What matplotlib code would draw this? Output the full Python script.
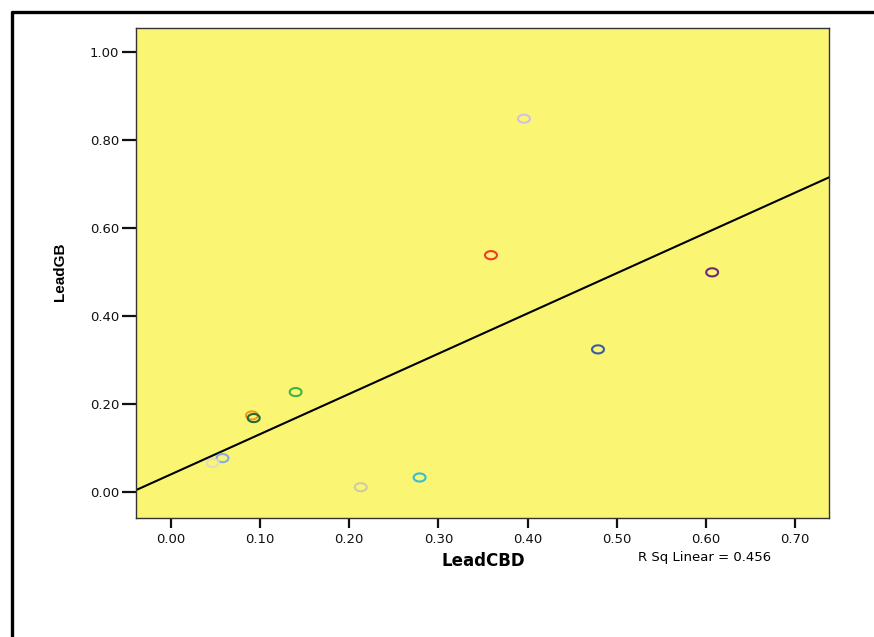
import matplotlib
matplotlib.use("Agg")
import matplotlib.pyplot as plt
import numpy as np
from matplotlib.lines import Line2D

# LeadCBD / LeadGB pairs, one colour per case
lead_cbd = [0.396, 0.359, 0.607, 0.479, 0.140, 0.091, 0.093, 0.058, 0.047, 0.213, 0.279]
lead_gb = [0.849, 0.539, 0.500, 0.325, 0.228, 0.175, 0.169, 0.078, 0.067, 0.012, 0.034]
case_colors = ["#d4bfe6", "#f03a2a", "#6a2a78", "#3a5aa6", "#3cb44a", "#f09a1e",
               "#1e6a36", "#86aee6", "#e4dcbc", "#cfcaa6", "#38bcd0"]
x_ticks = [0.0, 0.1, 0.2, 0.3, 0.4, 0.5, 0.6, 0.7]
y_ticks = [0.0, 0.2, 0.4, 0.6, 0.8, 1.0]
r_sq_text = "R Sq Linear = 0.456"

plt.rcParams["font.family"] = ["DejaVu Sans"]

W, H = 874, 637
fig = plt.figure(figsize=(W / 100, H / 100), dpi=100)
fig.patch.set_facecolor("white")

ax = fig.add_axes([136 / W, 1 - 518 / H, (829 - 136) / W, (518 - 28) / H])
ax.set_facecolor("#faf674")

xmin, xmax = -0.039, 0.738
ymin, ymax = -0.058, 1.055
ax.set_xlim(xmin, xmax)
ax.set_ylim(ymin, ymax)

# slightly flattened open circle marker
t = np.linspace(0, 2 * np.pi, 60)
ellipse = np.column_stack([np.cos(t), 0.68 * np.sin(t)])

ax.scatter(lead_cbd, lead_gb, marker=ellipse, s=8.6 ** 2, facecolors="none",
           edgecolors=case_colors, linewidths=1.5, zorder=3)

# linear fit across the full x range
slope, intercept = np.polyfit(lead_cbd, lead_gb, 1)
xs = np.array([xmin, xmax])
ax.plot(xs, intercept + slope * xs, color="black", lw=1.5, zorder=2)

ax.set_xticks(x_ticks)
ax.set_xticklabels(["%.2f" % v for v in x_ticks])
ax.set_yticks(y_ticks)
ax.set_yticklabels(["%.2f" % v for v in y_ticks])
ax.tick_params(axis="x", direction="out", length=7, width=1.6, pad=4,
               labelsize=9.5, colors="#111111")
ax.tick_params(axis="y", direction="out", length=10, width=1.6, pad=2,
               labelsize=9.5, colors="#111111")
for side in ax.spines.values():
    side.set_color("#333333")
    side.set_linewidth(1.0)

fig.text(483 / W, 1 - 561 / H, "LeadCBD", ha="center", va="center",
         fontsize=12, fontweight="bold")
fig.text(60 / W, 1 - 272 / H, "LeadGB", ha="center", va="center",
         fontsize=11, fontweight="bold", rotation=90,
         family=["Liberation Sans", "DejaVu Sans"])
fig.text(705 / W, 1 - 558 / H, r_sq_text, ha="center", va="center", fontsize=9.5)

# outer frame: heavy lines on the left and top edges
fig.add_artist(Line2D([12 / W, 12 / W], [0, 1 - 11 / H], color="black", lw=2.4,
                      transform=fig.transFigure, solid_capstyle="butt"))
fig.add_artist(Line2D([10.8 / W, 1], [1 - 11.5 / H, 1 - 11.5 / H], color="black",
                      lw=2.4, transform=fig.transFigure, solid_capstyle="butt"))

fig.savefig("out.png", dpi=100)
